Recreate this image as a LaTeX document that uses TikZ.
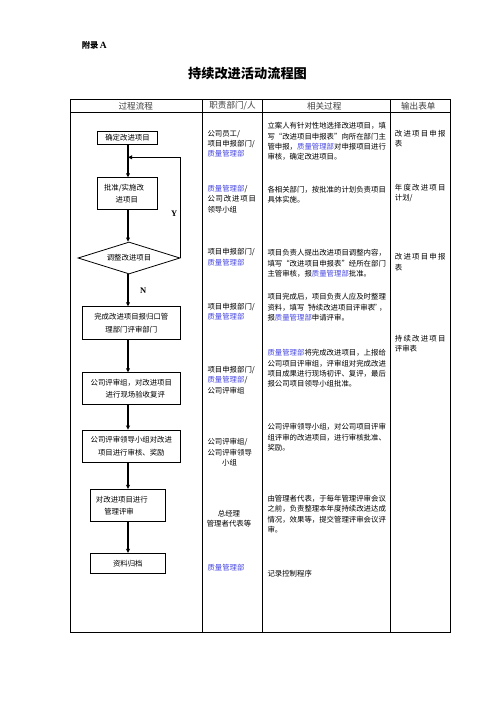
\documentclass[tikz,border=0pt]{standalone}
\usepackage{fontspec}
\setmainfont{Noto Sans CJK SC}
\newfontfamily\latserif{Liberation Serif}
\usetikzlibrary{arrows.meta,shapes.geometric}
\definecolor{qblue}{RGB}{70,70,225}
\newcommand{\qbm}{\textcolor{qblue}{质量管理部}}
\newcommand{\myfs}{\fontsize{7.4}{10.3}\selectfont}
\newcommand{\boxfs}{\fontsize{7.4}{12.6}\selectfont}
\newcommand{\spreadsix}[7]{\makebox[#1]{#2\hfill #3\hfill #4\hfill #5\hfill #6\hfill #7}}
\tikzset{
  tb/.style={anchor=north west,inner sep=0pt,align=left,font=\myfs},
  tbc/.style={anchor=north,inner sep=0pt,align=center,font=\myfs},
  hd/.style={inner sep=0pt,font=\fontsize{8.6}{10}\selectfont,text=black!75},
  flowbox/.style={draw,line width=0.8pt,inner sep=0pt,align=center,font=\boxfs},
  flowline/.style={line width=1.1pt},
  flowarrow/.style={line width=1.1pt,-{Triangle[length=4pt,width=3.8pt]}},
  grid/.style={line width=0.8pt},
  yn/.style={inner sep=0pt,font=\fontsize{8.5}{10}\selectfont\latserif\bfseries}
}
\begin{document}
\begin{tikzpicture}[x=1pt,y=-1pt]
\useasboundingbox[fill=white] (0,0) rectangle (496,702);
% heading
\node[anchor=west,inner sep=0pt,font=\fontsize{8.3}{10}\selectfont\bfseries] (appx) at (81.7,45) {附录\,{\fontsize{9.5}{10}\selectfont\latserif\bfseries A}};
\node[inner sep=0pt,font=\fontsize{13.2}{15}\selectfont\bfseries] (title) at (247.5,73.3) {持续改进活动流程图};
% table
\draw[grid] (70,99.3) rectangle (450.7,632);
\draw[grid] (70,112.3) -- (450.7,112.3);
\draw[grid] (202.7,99.3) -- (202.7,632);
\draw[grid] (262.3,99.3) -- (262.3,632);
\draw[grid] (390.7,99.3) -- (390.7,632);
\node[hd] (h1) at (135.8,106) {过程流程};
\node[hd] (h2) at (232.5,106) {职责部门/人};
\node[hd] (h3) at (324.2,106) {相关过程};
\node[hd] (h4) at (418.3,106) {输出表单};
% flow chart
\node[flowbox,minimum width=60.4pt,minimum height=12.6pt] (b1) at (127.5,138) {确定改进项目};
\node[flowbox,minimum width=60.4pt,minimum height=31.6pt,text width=47pt,inner xsep=6.7pt,align=left] (b2) at (127.5,193.5) {批准/实施改\\\hspace*{11.7pt}进项目};
\node[draw,line width=0.8pt,shape=diamond,aspect=3.2,minimum width=102pt,minimum height=32pt,inner sep=0pt,font=\myfs] (d) at (129,258) {调整改进项目};
\node[flowbox,minimum width=97.3pt,minimum height=32.6pt] (b3) at (131.3,323) {完成改进项目报归口管\\理部门评审部门};
\node[flowbox,minimum width=97.3pt,minimum height=31.6pt] (b4) at (131.3,388.5) {公司评审组，对改进项目\\\hspace*{8pt}进行现场验收复评};
\node[flowbox,minimum width=97.3pt,minimum height=32.3pt] (b5) at (131.3,446.2) {公司评审领导小组对改进\\项目进行审核、奖励};
\node[flowbox,minimum width=75.7pt,minimum height=32.4pt,text width=63.7pt,inner xsep=6pt,align=left] (b6) at (127.8,505.5) {对改进项目进行\\\hspace*{8.3pt}管理评审};
\node[flowbox,minimum width=75.7pt,minimum height=20pt] (b7) at (127.8,563.3) {资料归档};
\coordinate (j) at (128,157.3);
\coordinate (top1) at (128,144.3);
\draw[flowarrow] (top1) -- (top1 |- b2.north);
\draw[flowline] (d.east) -- (d.east |- j);
\draw[flowarrow] (d.east |- j) -- (j);
\draw[flowarrow] (top1 |- b2.south) -- (top1 |- d.north);
\draw[flowarrow] (top1 |- d.south) -- (top1 |- b3.north);
\draw[flowarrow] (top1 |- b3.south) -- (top1 |- b4.north);
\draw[flowarrow] (top1 |- b4.south) -- (top1 |- b5.north);
\draw[flowarrow] (top1 |- b5.south) -- (top1 |- b6.north);
\draw[flowarrow] (top1 |- b6.south) -- (top1 |- b7.north);
\node[yn] (ylab) at (174.3,213.3) {Y};
\node[yn] (nlab) at (143.3,291) {N};
% responsibilities
\node[tb] (p1) at (207.3,130) {公司员工/\\项目申报部门/\\\qbm};
\node[tb] (p2) at (207.3,185) {\qbm/\\\spreadsix{48.5pt}{公}{司}{改}{进}{项}{目}\\领导小组};
\node[tb] (p3) at (207.3,248.4) {项目申报部门/\\\qbm};
\node[tb] (p4) at (207.3,302.7) {项目申报部门/\\\qbm};
\node[tb] (p5) at (207.3,366) {项目申报部门/\\\qbm/\\公司评审组};
\node[tb] (p6) at (207.3,438.4) {公司评审组/\\公司评审领导\\\makebox[44pt]{小组}};
\node[tbc] (p7) at (229,510) {总经理\\管理者代表等};
\node[tb] (p8) at (207.3,564.4) {\qbm};
% related processes
\node[tb] (r1) at (267.3,122.4) {立案人有针对性地选择改进项目，填\\写“改进项目申报表”向所在部门主\\管申报，\qbm 对申报项目进行\\审核，确定改进项目。};
\node[tb] (r2) at (267.3,186) {各相关部门，按批准的计划负责项目\\具体实施。};
\node[tb] (r3) at (267.3,249.4) {项目负责人提出改进项目调整内容，\\填写“改进项目申报表”经所在部门\\主管审核，报\qbm 批准。};
\node[tb] (r4) at (267.3,293.4) {项目完成后，项目负责人应及时整理\\资料，填写\kern-1.2pt“\kern-2.2pt持续改进项目评审表\kern-1.2pt”\kern-2.2pt，\\报\qbm 申请评审。};
\node[tb] (r5) at (267.3,349.4) {\qbm 将完成改进项目，上报给\\公司项目评审组，评审组对完成改进\\项目成果进行现场初评、复评，最后\\报公司项目领导小组批准。};
\node[tb] (r6) at (267.3,423.4) {公司评审领导小组，对公司项目评审\\组评审的改进项目，进行审核批准、\\奖励。};
\node[tb] (r7) at (267.3,495) {由管理者代表，于每年管理评审会议\\之前，负责整理本年度持续改进达成\\情况，效果等，提交管理评审会议评\\审。};
\node[tb] (r8) at (267.3,570) {记录控制程序};
% output forms
\node[tb] (o1) at (394.7,130) {\spreadsix{50.5pt}{改}{进}{项}{目}{申}{报}\\表};
\node[tb] (o2) at (394.7,184) {\spreadsix{50.5pt}{年}{度}{改}{进}{项}{目}\\计划/};
\node[tb] (o3) at (394.7,253.4) {\spreadsix{50.5pt}{改}{进}{项}{目}{申}{报}\\表};
\node[tb] (o4) at (394.7,335) {\spreadsix{50.5pt}{持}{续}{改}{进}{项}{目}\\评审表};
\end{tikzpicture}
\end{document}
